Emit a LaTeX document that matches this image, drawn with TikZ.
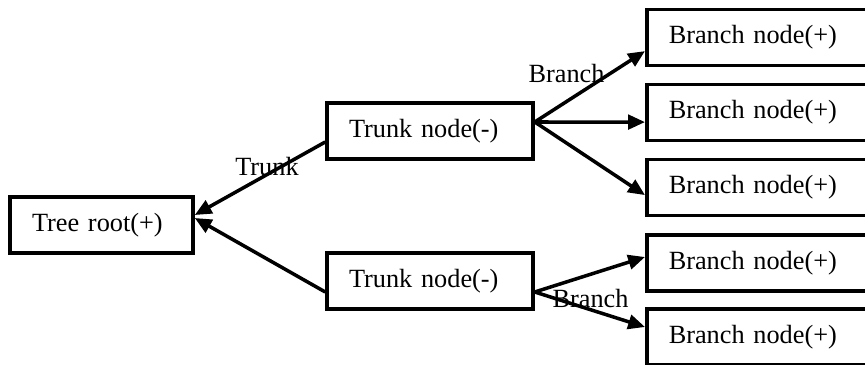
\documentclass[tikz,border=0pt]{standalone}
\usepackage{fontspec}
\setmainfont{Liberation Serif}
\usetikzlibrary{arrows.meta}

\begin{document}
\begin{tikzpicture}[
  box/.style={draw, rectangle, line width=2.5pt, minimum height=1.4cm, inner xsep=0.55cm, align=left, font=\fontsize{18.7}{22}\selectfont},
  arrow/.style={-{Triangle[length=0.42cm, width=0.36cm]}, line width=2.5pt},
  lbl/.style={font=\fontsize{18.7}{22}\selectfont, inner sep=0pt}
]
\clip (0, 0) rectangle (21.625, 9.125);

% Root and trunk nodes
\node[box, text width=3.475cm] (root) at (2.5375, 3.5) {Tree root(+)};
\node[box, text width=4.05cm] (t1) at (10.75, 5.85) {Trunk node(-)};
\node[box, text width=4.05cm] (t2) at (10.75, 2.1) {Trunk node(-)};

% Branch nodes (running off the right edge)
\node[box, text width=6.5cm, anchor=west] (b1) at (16.125, 8.1875) {Branch node(+)};
\node[box, text width=6.5cm, anchor=west] (b2) at (16.125, 6.3125) {Branch node(+)};
\node[box, text width=6.5cm, anchor=west] (b3) at (16.125, 4.4375) {Branch node(+)};
\node[box, text width=6.5cm, anchor=west] (b4) at (16.125, 2.55) {Branch node(+)};
\node[box, text width=6.5cm, anchor=west] (b5) at (16.125, 0.7) {Branch node(+)};

% Trunk arrows into the root
\draw[arrow] ([yshift=-0.275cm]t1.west) -- ([yshift=0.25cm]root.east);
\draw[arrow] ([yshift=-0.275cm]t2.west) -- ([yshift=0.175cm]root.east);

% Branch arrows
\draw[arrow] ([yshift=0.225cm]t1.east) -- ([yshift=-0.34cm]b1.west);
\draw[arrow] ([yshift=0.225cm]t1.east) -- ([yshift=-0.24cm]b2.west);
\draw[arrow] ([yshift=0.225cm]t1.east) -- ([yshift=-0.19cm]b3.west);
\draw[arrow] ([yshift=-0.275cm]t2.east) -- ([yshift=0.15cm]b4.west);
\draw[arrow] ([yshift=-0.275cm]t2.east) -- ([yshift=0.25cm]b5.west);

% Edge labels
\node[lbl] (trunklbl) at (6.675, 4.95) {Trunk};
\node[lbl] (branchup) at (14.1625, 7.2875) {Branch};
\node[lbl] (branchdn) at (14.7625, 1.6625) {Branch};

\end{tikzpicture}
\end{document}
